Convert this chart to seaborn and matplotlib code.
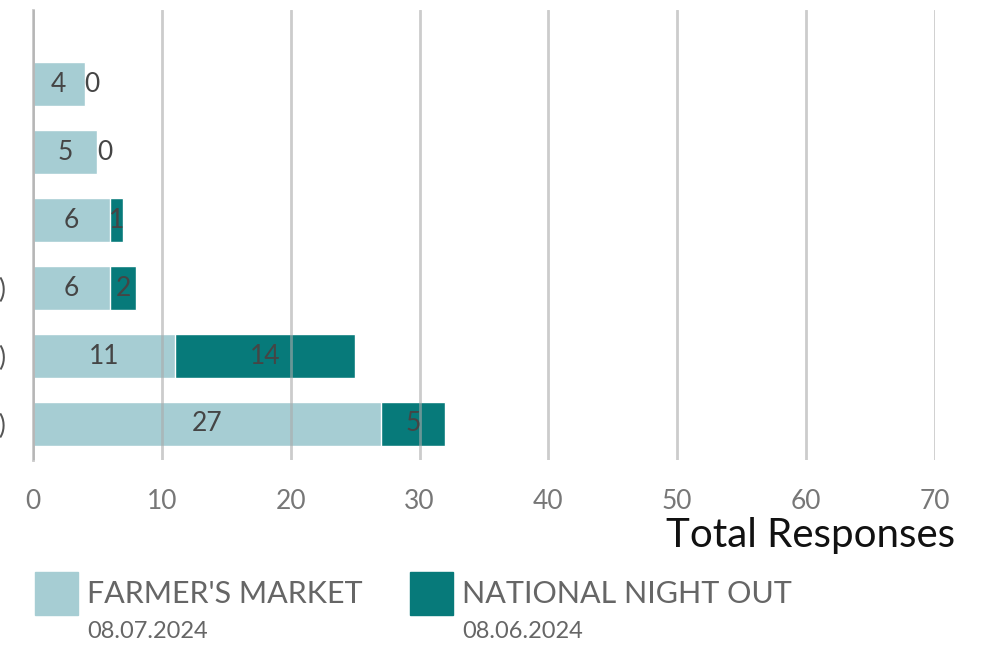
import numpy as np
import pandas as pd
import seaborn as sns
import matplotlib.pyplot as plt
from matplotlib.patches import Rectangle

# data (top to bottom)
categories = ["A", "B", "C", "D", "E", "F"]
tick_labels = ["", "", "", "(D)", "(E)", "(F)"]
farmers_market = [4, 5, 6, 6, 11, 27]
national_night = [0, 0, 1, 2, 14, 5]
x_ticks = [0, 10, 20, 30, 40, 50, 60, 70]

light = "#A6CDD3"
dark = "#077A7A"

sns.set_theme(style="white")
plt.rcParams['font.family'] = ['Lato', 'DejaVu Sans']

df = pd.DataFrame({"cat": categories, "fm": farmers_market, "nno": national_night})
df["total"] = df["fm"] + df["nno"]

fig = plt.figure(figsize=(9.97, 6.45), dpi=100)
ax = fig.add_axes([0.0331, 0.2868, 0.9047, 0.6977])

sns.barplot(data=df, x="total", y="cat", color=dark, width=0.65, saturation=1, ax=ax)
sns.barplot(data=df, x="fm", y="cat", color=light, width=0.65, saturation=1, ax=ax)

# value labels
lab_kw = dict(va="center", fontsize=19, color="#454545")
for i, row in df.iterrows():
    ax.text(row["fm"] / 2, i, str(row["fm"]), ha="center", **lab_kw)
    if row["nno"] > 0:
        ax.text(row["fm"] + row["nno"] / 2, i, str(row["nno"]), ha="center", **lab_kw)
    else:
        ax.text(row["fm"], i, "0", ha="left", **lab_kw)

ax.set_xlim(0, 70)
ax.set_ylim(5.53, -1.09)
ax.set_xticks(x_ticks)
ax.set_xticklabels([str(t) for t in x_ticks], fontsize=19, color="#777777")
ax.set_yticks(range(len(categories)))
ax.set_yticklabels(tick_labels, fontsize=19, color="#555555")
ax.tick_params(axis="x", length=0, pad=21)
ax.tick_params(axis="y", length=0, pad=19)
ax.set_ylabel("")
ax.set_xlabel("")
# gridlines sit faintly over the bars, as in the original
ax.xaxis.grid(True, color="#aaaaaa", alpha=0.6, linewidth=2)
ax.set_axisbelow(False)
for s in ["top", "right", "bottom"]:
    ax.spines[s].set_visible(False)
ax.spines["left"].set_color("#c8c8c8")
ax.spines["left"].set_linewidth(2)

fig.text(955 / 997, 1 - 536 / 645, "Total Responses", ha="right", va="center",
         fontsize=29, color="#111111")

# legend
legend_items = [("FARMER'S MARKET", "08.07.2024", light, 35),
                ("NATIONAL NIGHT OUT", "08.06.2024", dark, 410)]
for name, date, col, x0 in legend_items:
    fig.patches.append(Rectangle((x0 / 997, 1 - 615 / 645), 43 / 997, 43 / 645,
                                 transform=fig.transFigure, color=col))
    fig.text((x0 + 52) / 997, 1 - 594 / 645, name, ha="left", va="center",
             fontsize=22, color="#666666")
    fig.text((x0 + 52) / 997, 1 - 631 / 645, date, ha="left", va="center",
             fontsize=17, color="#666666")

fig.savefig("out.png", dpi=100)
